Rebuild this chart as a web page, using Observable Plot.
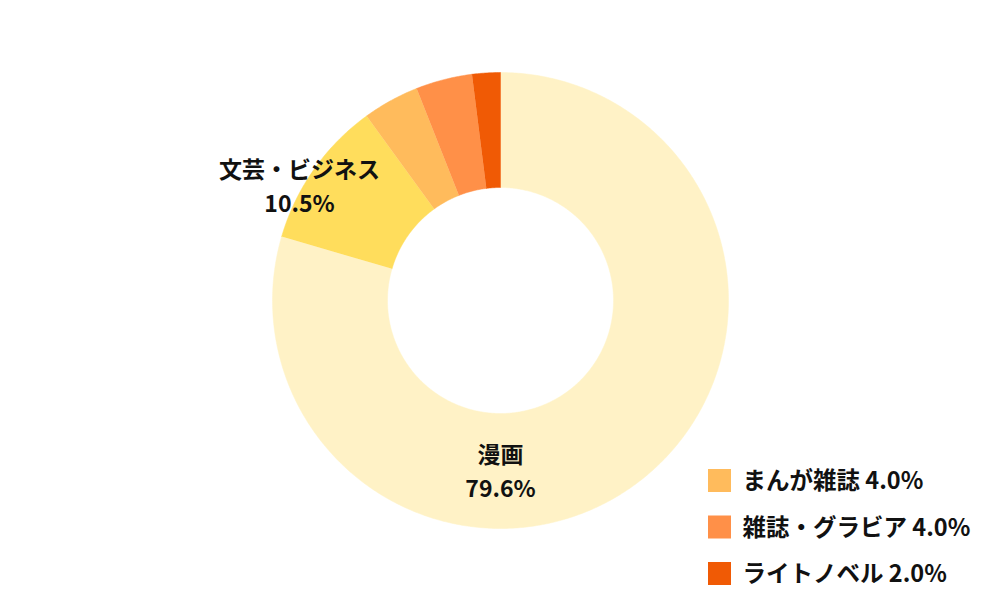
<!DOCTYPE html>
<html><head><meta charset="utf-8">
<script src="https://cdn.jsdelivr.net/npm/d3@7"></script>
<script src="https://cdn.jsdelivr.net/npm/@observablehq/plot@0.6"></script>
<style>
html,body{margin:0;padding:0;background:#fff;}
#chart{width:1000px;height:600px;}
</style>
</head><body><div id="chart"></div>
<script>
const categories = ["漫画", "文芸・ビジネス", "まんが雑誌", "雑誌・グラビア", "ライトノベル"];
const shares = [79.6, 10.5, 4.0, 4.0, 2.0];
const colors = ["#FFF2C6", "#FFDD5C", "#FFBB5C", "#FF9048", "#F05A05"];
const sliceLabels = ["漫画", "文芸・ビジネス"];
const legendItems = ["まんが雑誌", "雑誌・グラビア", "ライトノベル"];

const W = 1000, H = 600;
const cx = 500, cy = 300, R = 228, R0 = 113;
const total = d3.sum(shares);

// build slice polygons from the shares
const poly = [];
let acc = 0;
categories.forEach((c, i) => {
  const a0 = acc / total * 2 * Math.PI;
  acc += shares[i];
  const a1 = acc / total * 2 * Math.PI;
  const n = Math.max(4, Math.ceil((a1 - a0) / (Math.PI / 360)));
  const pts = [];
  for (let k = 0; k <= n; k++) {
    const a = a0 + (a1 - a0) * k / n;
    pts.push({cat: c, x: cx + R * Math.sin(a), y: cy - R * Math.cos(a)});
  }
  for (let k = n; k >= 0; k--) {
    const a = a0 + (a1 - a0) * k / n;
    pts.push({cat: c, x: cx + R0 * Math.sin(a), y: cy - R0 * Math.cos(a)});
  }
  poly.push(...pts);
});

// label anchor placement (pixel space)
const labelAnchor = {"漫画": [500, 455], "文芸・ビジネス": [299, 170]};
const labelRows = [];
sliceLabels.forEach(c => {
  const i = categories.indexOf(c);
  const [lx, ly] = labelAnchor[c];
  labelRows.push({x: lx, y: ly, text: c});
  labelRows.push({x: lx, y: ly + 34, text: shares[i].toFixed(1) + "%"});
});

const legendRows = legendItems.map((c, j) => {
  const i = categories.indexOf(c);
  const top = 469 + j * 46.5;
  return {cat: c, x1: 708, x2: 731, y1: top, y2: top + 23, tx: 742, ty: top + 12, text: c + " " + shares[i].toFixed(1) + "%"};
});

const chart = Plot.plot({
  width: W, height: H,
  margin: 0,
  style: {background: "#fff", fontFamily: "'Noto Sans CJK JP', 'Noto Sans', sans-serif"},
  x: {domain: [0, W], range: [0, W], axis: null},
  y: {domain: [0, H], range: [0, H], axis: null},
  color: {domain: categories, range: colors},
  marks: [
    Plot.line(poly, {x: "x", y: "y", z: "cat", fill: "cat", stroke: "cat", strokeWidth: 0.5, curve: "linear"}),
    Plot.text(labelRows, {x: "x", y: "y", text: "text", fontSize: 23, fontWeight: "bold", fill: "#111", textAnchor: "middle"}),
    Plot.rect(legendRows, {x1: "x1", x2: "x2", y1: "y1", y2: "y2", fill: "cat"}),
    Plot.text(legendRows, {x: "tx", y: "ty", text: "text", fontSize: 23.5, fontWeight: "bold", fill: "#111", textAnchor: "start"})
  ]
});
document.getElementById("chart").appendChild(chart);
</script>
</body></html>
